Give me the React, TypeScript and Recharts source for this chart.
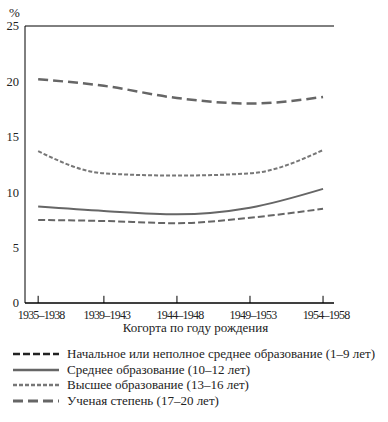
import { LineChart, Line, XAxis, YAxis, CartesianGrid, Legend, ReferenceLine, Label } from "recharts";

// середины когорт (годы рождения)
const cohortMid = [1936.5, 1941, 1946, 1951, 1956];
const cohortLabels = ["1935–1938", "1939–1943", "1944–1948", "1949–1953", "1954–1958"];

const primary = [7.5, 7.4, 7.2, 7.7, 8.5];
const secondary = [8.7, 8.3, 8.0, 8.6, 10.3];
const higher = [13.7, 11.7, 11.5, 11.7, 13.8];
const degree = [20.2, 19.6, 18.5, 18.0, 18.6];

const yTicks = [0, 5, 10, 15, 20, 25];

const series = [
  { key: "primary", name: "Начальное или неполное среднее образование (1–9 лет)", dash: "7 3", width: 2, color: "#666", legendColor: "#222" },
  { key: "secondary", name: "Среднее образование (10–12 лет)", dash: undefined, width: 2, color: "#666", legendColor: "#666" },
  { key: "higher", name: "Высшее образование (13–16 лет)", dash: "4 2", width: 2, color: "#777", legendColor: "#777" },
  { key: "degree", name: "Ученая степень (17–20 лет)", dash: "10 5", width: 2.5, color: "#666", legendColor: "#666" },
];

const data = cohortMid.map((x, i) => ({
  x,
  primary: primary[i],
  secondary: secondary[i],
  higher: higher[i],
  degree: degree[i],
}));

const font = "Liberation Serif, serif";

function LegendBox() {
  return (
    <div style={{ fontFamily: font, fontSize: 13, color: "#222" }}>
      {series.map((s) => (
        <div key={s.key} style={{ display: "flex", alignItems: "center", height: 15.7 }}>
          <svg width={54} height={8}>
            <line x1={0} y1={4} x2={46} y2={4} stroke={s.legendColor} strokeWidth={s.width + 0.5} strokeDasharray={s.dash} />
          </svg>
          <span>{s.name}</span>
        </div>
      ))}
    </div>
  );
}

export default function App() {
  const labelFor = (v: number) => cohortLabels[cohortMid.indexOf(v)] ?? "";
  return (
    <div style={{ position: "absolute", left: 0, top: 0, background: "#fff", fontFamily: font }}>
      <LineChart width={388} height={422} data={data} margin={{ top: 26, right: 54, left: 0, bottom: 89 }}>
        <CartesianGrid vertical={false} stroke="#000" strokeOpacity={1} />
        <XAxis
          dataKey="x"
          type="number"
          domain={[1935.6, 1956.75]}
          ticks={cohortMid}
          tickFormatter={labelFor}
          tickLine={false}
          tickSize={2}
          tickMargin={5}
          axisLine={{ stroke: "#000" }}
          height={30}
          interval={0}
          tick={{ fill: "#222", fontSize: 12, fontFamily: font, letterSpacing: -0.8, dx: 3 }}
        >
          <Label value="Когорта по году рождения" position="insideBottom" offset={1} dx={16} style={{ fill: "#222", fontSize: 13, fontFamily: font }} />
        </XAxis>
        <YAxis
          yAxisId="l"
          domain={[0, 25]}
          ticks={yTicks}
          width={25}
          tickLine={false}
          tickSize={0}
          tickMargin={6}
          axisLine={{ stroke: "#000" }}
          tick={{ fill: "#222", fontSize: 12.5, fontFamily: font }}
        >
          <Label value="%" position="top" offset={9} dx={2} style={{ fill: "#222", fontSize: 13, fontFamily: font }} />
        </YAxis>
        <YAxis yAxisId="r" orientation="right" domain={[0, 25]} width={0} tick={false} tickLine={false} axisLine={{ stroke: "#000" }} />
        {cohortMid.map((x) => (
          <ReferenceLine
            key={x}
            yAxisId="l"
            segment={[{ x, y: 0 }, { x, y: 0.65 }]}
            stroke="#000"
            ifOverflow="visible"
          />
        ))}
        {series.map((s) => (
          <Line
            key={s.key}
            yAxisId="l"
            type="monotone"
            dataKey={s.key}
            name={s.name}
            stroke={s.color}
            strokeWidth={s.width}
            strokeDasharray={s.dash}
            dot={false}
            isAnimationActive={false}
          />
        ))}
        <Legend
          layout="vertical"
          align="center"
          verticalAlign="middle"
          content={() => <LegendBox />}
          wrapperStyle={{ left: 13, top: 346, width: 375 }}
        />
      </LineChart>
    </div>
  );
}
